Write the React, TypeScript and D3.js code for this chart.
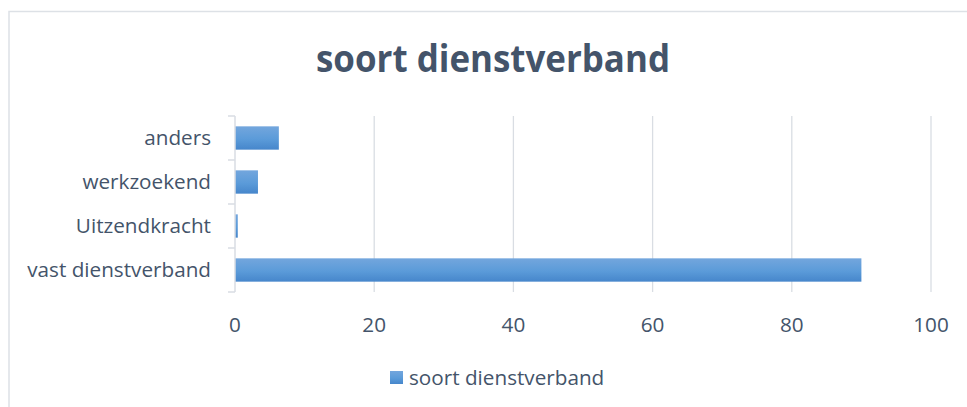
import React, { useEffect, useRef } from "react";
import * as d3 from "d3";

const categories = ["vast dienstverband", "Uitzendkracht", "werkzoekend", "anders"];
const values = [90, 0.4, 3.3, 6.3];
const xTicks = [0, 20, 40, 60, 80, 100];
const seriesName = "soort dienstverband";
const title = "soort dienstverband";

const W = 967;
const H = 407;
const font = "'Open Sans', sans-serif";
const textColor = "#44546A";

const App: React.FC = () => {
  const svgRef = useRef<SVGSVGElement | null>(null);

  useEffect(() => {
    if (!svgRef.current) return;
    const svg = d3.select(svgRef.current);
    svg.selectAll("*").remove();

    const plot = { left: 235, right: 931, top: 116, bottom: 292 };

    const x = d3.scaleLinear().domain([0, 100]).range([plot.left, plot.right]);
    const y = d3
      .scaleBand<string>()
      .domain(categories)
      .range([plot.bottom, plot.top])
      .padding(0);

    const defs = svg.append("defs");
    const grad = defs
      .append("linearGradient")
      .attr("id", "barGrad")
      .attr("x1", 0)
      .attr("y1", 0)
      .attr("x2", 0)
      .attr("y2", 1);
    grad.append("stop").attr("offset", "0%").attr("stop-color", "#73A6DD");
    grad.append("stop").attr("offset", "55%").attr("stop-color", "#5B9BD9");
    grad.append("stop").attr("offset", "100%").attr("stop-color", "#4686CB");

    // chart border
    svg
      .append("rect")
      .attr("x", 9)
      .attr("y", 11.5)
      .attr("width", W + 10)
      .attr("height", H + 10)
      .attr("fill", "#fff")
      .attr("stroke", "#DDE1E6")
      .attr("stroke-width", 1.5);

    // title
    svg
      .append("text")
      .attr("x", 316)
      .attr("y", 72)
      .attr("textLength", 354)
      .attr("lengthAdjust", "spacingAndGlyphs")
      .attr("font-family", font)
      .attr("font-size", 37)
      .attr("font-weight", "bold")
      .attr("fill", textColor)
      .text(title);

    // vertical gridlines
    svg
      .append("g")
      .selectAll("line")
      .data(xTicks.slice(1))
      .join("line")
      .attr("x1", (d) => x(d))
      .attr("x2", (d) => x(d))
      .attr("y1", plot.top)
      .attr("y2", plot.bottom)
      .attr("stroke", "#D9DDE3")
      .attr("stroke-width", 1.3);

    // bars
    const bw = y.bandwidth();
    const barH = bw * 0.53;
    svg
      .append("g")
      .selectAll("rect")
      .data(categories)
      .join("rect")
      .attr("x", x(0))
      .attr("y", (d) => (y(d) || 0) + (bw - barH) / 2)
      .attr("width", (_, i) => x(values[i]) - x(0))
      .attr("height", barH)
      .attr("fill", "url(#barGrad)");

    // category axis line + ticks
    const axis = svg.append("g");
    axis
      .append("line")
      .attr("x1", plot.left)
      .attr("x2", plot.left)
      .attr("y1", plot.top)
      .attr("y2", plot.bottom)
      .attr("stroke", "#D9DDE3")
      .attr("stroke-width", 1.5);
    const boundaries = categories.map((c) => y(c) || 0).concat([plot.bottom]);
    axis
      .selectAll("line.tick")
      .data(boundaries)
      .join("line")
      .attr("class", "tick")
      .attr("x1", plot.left - 7)
      .attr("x2", plot.left)
      .attr("y1", (d) => d)
      .attr("y2", (d) => d)
      .attr("stroke", "#D9DDE3")
      .attr("stroke-width", 1.5);

    // category labels
    svg
      .append("g")
      .selectAll("text")
      .data(categories)
      .join("text")
      .attr("x", 211)
      .attr("y", (d) => (y(d) || 0) + bw / 2)
      .attr("dy", "0.35em")
      .attr("text-anchor", "end")
      .attr("font-family", font)
      .attr("font-size", 20.7)
      .attr("fill", textColor)
      .text((d) => d);

    // value labels
    svg
      .append("g")
      .selectAll("text")
      .data(xTicks)
      .join("text")
      .attr("x", (d) => x(d))
      .attr("y", 325)
      .attr("dy", "0.35em")
      .attr("text-anchor", "middle")
      .attr("font-family", font)
      .attr("font-size", 20.7)
      .attr("fill", textColor)
      .text((d) => d);

    // legend
    const lg = svg.append("g");
    lg.append("rect")
      .attr("x", 390)
      .attr("y", 371)
      .attr("width", 13)
      .attr("height", 13)
      .attr("fill", "url(#barGrad)");
    lg.append("text")
      .attr("x", 409)
      .attr("y", 378)
      .attr("dy", "0.35em")
      .attr("font-family", font)
      .attr("font-size", 20.7)
      .attr("fill", textColor)
      .text(seriesName);
  }, []);

  return (
    <svg
      ref={svgRef}
      width={W}
      height={H}
      style={{ position: "absolute", left: 0, top: 0 }}
    />
  );
};

export default App;
